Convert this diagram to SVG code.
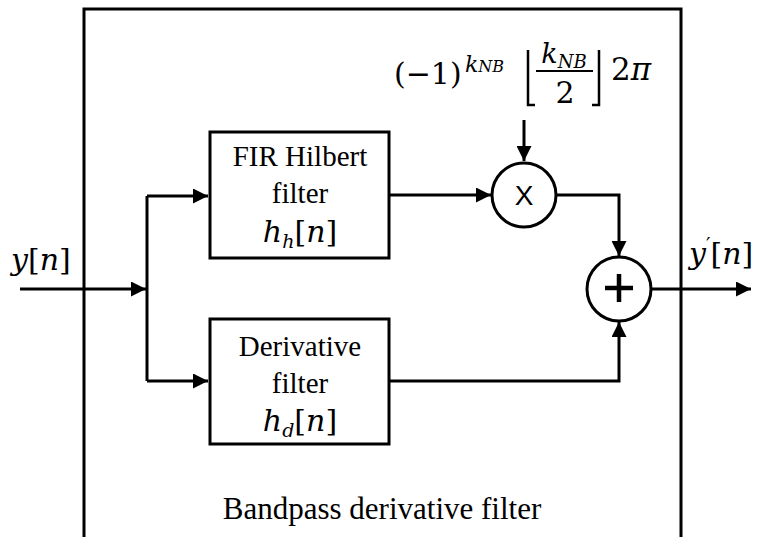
<svg xmlns="http://www.w3.org/2000/svg" width="763" height="537" viewBox="0 0 763 537">
<style>
.ln{stroke:#000;stroke-width:3;fill:none}
.bx{stroke:#000;stroke-width:3;fill:#fff}
.t{font-family:"Liberation Serif",serif;fill:#000;text-anchor:middle}
.m{font-family:"DejaVu Serif","Liberation Serif",serif;font-style:italic;fill:#000}
.mu{font-family:"DejaVu Serif","Liberation Serif",serif;fill:#000}
.up{font-style:normal}
</style>
<defs>
<marker id="ah" viewBox="0 0 10 10" refX="10" refY="5" markerWidth="5" markerHeight="5" orient="auto" markerUnits="strokeWidth">
<path d="M0,0 L10,5 L0,10 z" fill="#000"/>
</marker>
</defs>
<rect width="763" height="537" fill="#fff"/>
<g id="outer">
<path class="ln" d="M84,537 V9 H681 V537"/>
<text class="t" x="382" y="519" font-size="31">Bandpass derivative filter</text>
</g>
<g id="connectors">
<path class="ln" d="M20,289 H146" marker-end="url(#ah)"/>
<path class="ln" d="M147,196 V381"/>
<path class="ln" d="M147,196 H208" marker-end="url(#ah)"/>
<path class="ln" d="M147,381 H208" marker-end="url(#ah)"/>
<path class="ln" d="M389,195 H491" marker-end="url(#ah)"/>
<path class="ln" d="M524,120 V161" marker-end="url(#ah)"/>
<path class="ln" d="M557,195 H619 V256" marker-end="url(#ah)"/>
<path class="ln" d="M389,381 H619 V322" marker-end="url(#ah)"/>
<path class="ln" d="M651,289 H751" marker-end="url(#ah)"/>
</g>
<g id="hilbert">
<rect class="bx" x="210" y="132" width="179" height="126"/>
<text class="t" x="300" y="166" font-size="29">FIR Hilbert</text>
<text class="t" x="300" y="203" font-size="29">filter</text>
<text class="m" x="300" y="242" font-size="30" text-anchor="middle">h<tspan font-size="19" dy="6">h</tspan><tspan class="up" dy="-6">[</tspan>n<tspan class="up">]</tspan></text>
</g>
<g id="derivative">
<rect class="bx" x="210" y="319" width="179" height="125"/>
<text class="t" x="300" y="356" font-size="29">Derivative</text>
<text class="t" x="300" y="393" font-size="29">filter</text>
<text class="m" x="300" y="431" font-size="30" text-anchor="middle">h<tspan font-size="19" dy="6">d</tspan><tspan class="up" dy="-6">[</tspan>n<tspan class="up">]</tspan></text>
</g>
<g id="multiplier">
<circle class="bx" cx="524" cy="195" r="32"/>
<text x="524" y="205" font-family="Liberation Sans,sans-serif" font-size="28" text-anchor="middle">X</text>
</g>
<g id="adder">
<circle class="bx" cx="619" cy="289" r="32"/>
<path d="M605,288 H633 M619,274 V302" stroke="#000" stroke-width="4.5"/>
</g>
<g id="input-label">
<text class="m" x="11" y="270" font-size="30">y<tspan class="up">[</tspan>n<tspan class="up">]</tspan></text>
</g>
<g id="output-label">
<text class="m" x="689" y="264" font-size="30">y<tspan class="up" font-size="20" dy="-12">′</tspan><tspan class="up" dy="12">[</tspan>n<tspan class="up">]</tspan></text>
</g>
<g id="gain">
<text class="mu" x="394" y="84" font-size="30">(−1)</text>
<text class="m" x="465" y="72" font-size="22">k<tspan font-size="16">NB</tspan></text>
<path d="M528,50 V105 H535 M599,50 V105 H592" stroke="#000" stroke-width="2.5" fill="none"/>
<text class="m" x="564" y="63" font-size="27" text-anchor="middle">k<tspan font-size="18" dy="5">NB</tspan></text>
<path d="M536,71 H593" stroke="#000" stroke-width="2"/>
<text class="mu" x="565" y="103" font-size="30" text-anchor="middle">2</text>
<text class="mu" x="611" y="80" font-size="31">2<tspan font-style="italic">π</tspan></text>
</g>
</svg>
